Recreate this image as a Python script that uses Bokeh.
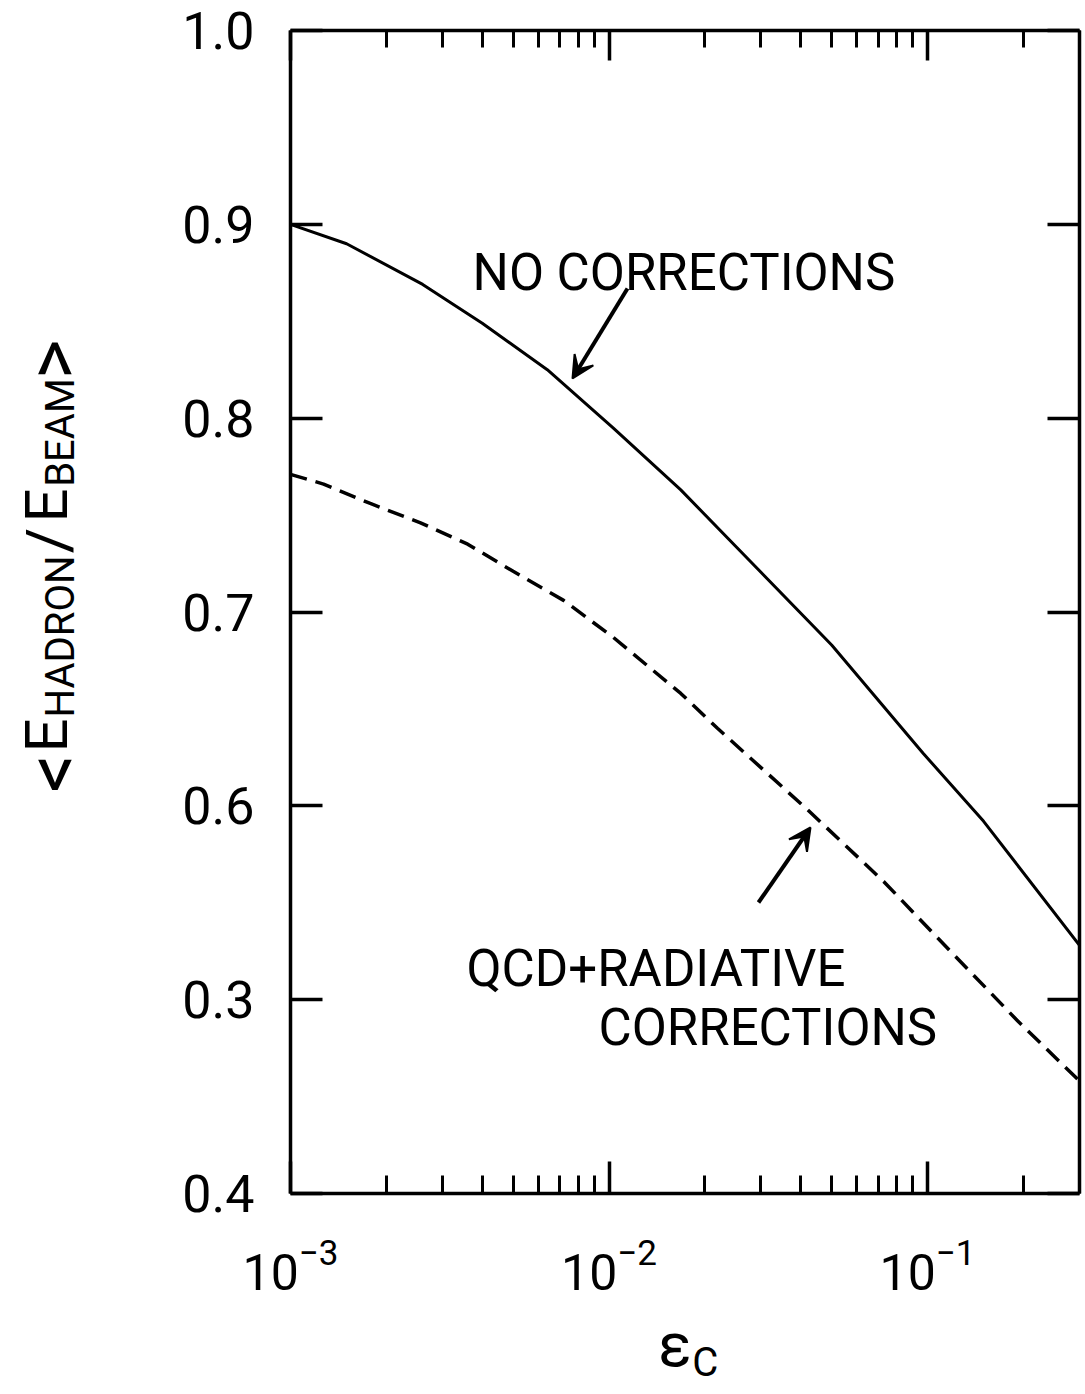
import math
from bokeh.plotting import figure
from bokeh.layouts import row, column
from bokeh.models import FixedTicker, LogAxis, LinearAxis, Label, Arrow, VeeHead, Range1d
from bokeh.embed import file_html
from bokeh.resources import INLINE

# ---- data ----
eps_c_solid = [0.001, 0.0015, 0.0026, 0.004, 0.0064, 0.0103, 0.0168, 0.028, 0.050, 0.097, 0.150, 0.300]
no_corrections = [0.900, 0.890, 0.869, 0.849, 0.825, 0.795, 0.763, 0.7255, 0.683, 0.627, 0.592, 0.528]

eps_c_dash = [0.001, 0.00127, 0.00178, 0.00256, 0.0036, 0.0050, 0.0072, 0.0103, 0.0168, 0.0219,
              0.042, 0.0728, 0.118, 0.192, 0.300]
qcd_radiative = [0.771, 0.766, 0.756, 0.746, 0.735, 0.721, 0.706, 0.687, 0.658, 0.640,
                 0.598, 0.561, 0.525, 0.489, 0.458]

x_major_ticks = [0.001, 0.01, 0.1]
x_minor_ticks = [0.002, 0.003, 0.004, 0.005, 0.006, 0.007, 0.008, 0.009,
                 0.02, 0.03, 0.04, 0.05, 0.06, 0.07, 0.08, 0.09, 0.2, 0.3]
y_ticks = [0.4, 0.5, 0.6, 0.7, 0.8, 0.9, 1.0]
y_tick_labels = ["0.4", "0.3", "0.6", "0.7", "0.8", "0.9", "1.0"]

# ---- geometry (page pixels) ----
W, H = 1085, 1394
LW = 170            # width of the strip holding the y-axis title
MH = 1310           # height of the main figure
L, R, T, B = 290, 1079, 30, 1193
X0, X1 = 1e-3, 0.3
Y0, Y1 = 0.4, 1.0
FONT = "Roboto"


def px2x(px):
    lo, hi = math.log10(X0), math.log10(X1)
    return 10 ** (lo + (px - L) / (R - L) * (hi - lo))


def py2y(py):
    return Y1 - (py - T) / (B - T) * (Y1 - Y0)


p = figure(width=W - LW, height=MH, x_axis_type="log", x_range=(X0, X1), y_range=(Y0, Y1),
           output_backend="svg", toolbar_location=None,
           min_border_left=L - LW, min_border_right=W - R, min_border_top=T, min_border_bottom=MH - B)
p.grid.visible = False
p.outline_line_color = None
p.background_fill_color = "white"
p.border_fill_color = "white"

xt = FixedTicker(ticks=x_major_ticks, minor_ticks=x_minor_ticks)
yt = FixedTicker(ticks=y_ticks)
overrides = {v: s for v, s in zip(y_ticks, y_tick_labels)}


def style_axis(ax, major_in, minor_in):
    ax.axis_line_width = 3.5
    ax.axis_line_color = "black"
    ax.major_tick_line_width = 3.5
    ax.minor_tick_line_width = 3
    ax.major_tick_line_color = "black"
    ax.minor_tick_line_color = "black" if minor_in else None
    ax.major_tick_in = major_in
    ax.major_tick_out = 0
    ax.minor_tick_in = minor_in
    ax.minor_tick_out = 0
    ax.major_label_text_font = FONT
    ax.major_label_text_color = "black"


xb = p.xaxis[0]
xb.ticker = xt
style_axis(xb, 32, 18)
xb.major_label_text_font_size = "50px"
xb.major_label_standoff = 44

yl = p.yaxis[0]
yl.ticker = yt
yl.major_label_overrides = overrides
style_axis(yl, 32, 0)
yl.major_label_text_font_size = "52px"
yl.major_label_standoff = 36

xtop = LogAxis(ticker=xt)
style_axis(xtop, 30, 17)
xtop.major_label_overrides = {v: "" for v in x_major_ticks}
xtop.major_label_text_font_size = "2px"
xtop.major_label_standoff = 0
p.add_layout(xtop, "above")

yr = LinearAxis(ticker=yt)
style_axis(yr, 32, 0)
yr.major_label_overrides = {v: "" for v in y_ticks}
yr.major_label_text_font_size = "2px"
yr.major_label_standoff = 0
p.add_layout(yr, "right")

# ---- curves ----
p.line(eps_c_solid, no_corrections, line_color="black", line_width=3)
p.line(eps_c_dash, qcd_radiative, line_color="black", line_width=3.5, line_dash="17 9")


# ---- annotations ----
def add_text(fig, txt, x, y, size, angle=0.0, font=FONT, align="left", baseline="alphabetic"):
    fig.add_layout(Label(x=x, y=y, text=txt, text_font=font,
                         text_font_size=f"{size}px", text_color="black",
                         text_align=align, text_baseline=baseline, angle=angle))


add_text(p, "NO CORRECTIONS", px2x(472), py2y(272), 51)
add_text(p, "QCD+RADIATIVE", px2x(466), py2y(968), 51)
add_text(p, "CORRECTIONS", px2x(598), py2y(1027), 51)

for (xs, ys, xe, ye) in [(627, 288, 572, 378), (758, 902, 810, 827)]:
    p.add_layout(Arrow(x_start=px2x(xs), y_start=py2y(ys), x_end=px2x(xe), y_end=py2y(ye),
                       line_width=4, line_color="black",
                       end=VeeHead(size=22, fill_color="black", line_color="black", line_width=2)))


def blank_fig(w, h, xr, yr_):
    f = figure(width=w, height=h, x_range=Range1d(*xr), y_range=Range1d(*yr_),
               output_backend="svg", toolbar_location=None, title=None,
               x_axis_location=None, y_axis_location=None,
               min_border=0, min_border_left=0, min_border_right=0,
               min_border_top=0, min_border_bottom=0)
    f.grid.visible = False
    f.outline_line_color = None
    f.background_fill_color = "white"
    f.border_fill_color = "white"
    return f


# ---- y-axis title strip (coordinates = page pixels, anchors at piece centres) ----
left = blank_fig(LW, H, (0, LW), (H, 0))
ang = math.pi / 2
for txt, cx, cy, size in [("<", 52, 773, 76), ("E", 46, 735, 60), ("HADRON", 60, 636, 40),
                          ("/", 48, 540, 62), ("E", 46, 505, 60), ("BEAM", 60, 432, 40),
                          (">", 52, 359, 76)]:
    add_text(left, txt, cx, cy, size, ang, FONT, "center", "middle")

# ---- x-axis title strip ----
bottom = blank_fig(W - LW, H - MH, (LW, W), (H, MH))
add_text(bottom, "\u03b5", 616, 1344, 62, 0.0, FONT, "center", "middle")
add_text(bottom, "C", 651, 1362, 40, 0.0, FONT, "center", "middle")

layout = row(left, column(p, bottom, spacing=0), spacing=0)
open("out.html", "w").write(file_html(layout, INLINE))
